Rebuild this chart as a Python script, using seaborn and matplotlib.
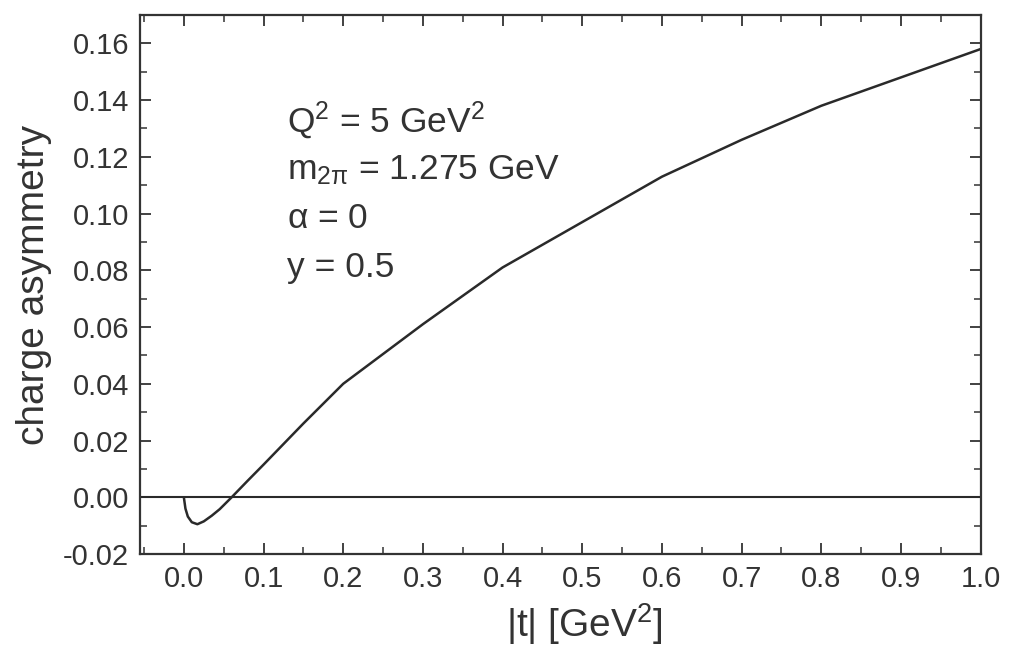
import numpy as np
import pandas as pd
import matplotlib
matplotlib.use("Agg")
import matplotlib.pyplot as plt
from matplotlib.ticker import MultipleLocator, FormatStrFormatter
import seaborn as sns

# data
t_vals = [0.0, 0.002, 0.005, 0.01, 0.017, 0.025, 0.035, 0.045, 0.06, 0.08, 0.1,
          0.15, 0.2, 0.3, 0.4, 0.5, 0.6, 0.7, 0.8, 0.9, 1.0]
asym = [0.0, -0.004, -0.0068, -0.0088, -0.0095, -0.0085, -0.0065, -0.0042, 0.0,
        0.0058, 0.0115, 0.026, 0.040, 0.061, 0.081, 0.097, 0.113, 0.126, 0.138,
        0.148, 0.158]
annot_lines = [r"Q$^2$ = 5 GeV$^2$", r"m$_{2\pi}$ = 1.275 GeV", r"$\alpha$ = 0", "y = 0.5"]

sns.set_style("ticks")
plt.rcParams["font.family"] = ["Liberation Sans", "DejaVu Sans"]
plt.rcParams["mathtext.fontset"] = "custom"
plt.rcParams["mathtext.rm"] = "Liberation Sans"
plt.rcParams["mathtext.it"] = "Liberation Sans"
plt.rcParams["mathtext.sf"] = "Liberation Sans"

fig = plt.figure(figsize=(10.11, 6.63), dpi=100)
ax = fig.add_axes([0.1385, 0.1644, 0.8315, 0.8130])

df = pd.DataFrame({"t": t_vals, "A": asym})
sns.lineplot(data=df, x="t", y="A", ax=ax, color="#2a2a2a", linewidth=1.8)
ax.axhline(0.0, color="#2a2a2a", linewidth=1.5)

ax.set_xlim(-0.055, 1.0)
ax.set_ylim(-0.02, 0.17)
ax.xaxis.set_major_locator(MultipleLocator(0.1))
ax.xaxis.set_minor_locator(MultipleLocator(0.05))
ax.yaxis.set_major_locator(MultipleLocator(0.02))
ax.yaxis.set_minor_locator(MultipleLocator(0.01))
ax.xaxis.set_major_formatter(FormatStrFormatter("%.1f"))
ax.yaxis.set_major_formatter(FormatStrFormatter("%.2f"))
ax.set_xticks(np.arange(0.0, 1.01, 0.1))
ax.tick_params(which="both", direction="in", top=True, right=True, color="#333333")
ax.tick_params(which="major", length=8, width=1.3, labelsize=21, pad=8, labelcolor="#333333")
ax.tick_params(which="minor", length=5, width=1.1)
for s in ax.spines.values():
    s.set_linewidth(1.6)
    s.set_color("#333333")

ax.set_xlabel(r"|t| [GeV$^2$]", fontsize=28, color="#333333")
ax.set_ylabel("charge asymmetry", fontsize=28, color="#333333", labelpad=8)
ax.xaxis.set_label_coords(0.529, -0.088)

y0 = 0.1325
for i, line in enumerate(annot_lines):
    ax.text(0.129, y0 - i * 0.0172, line, fontsize=25.5, color="#333333", va="center", ha="left")

fig.savefig("out.png", dpi=100)
